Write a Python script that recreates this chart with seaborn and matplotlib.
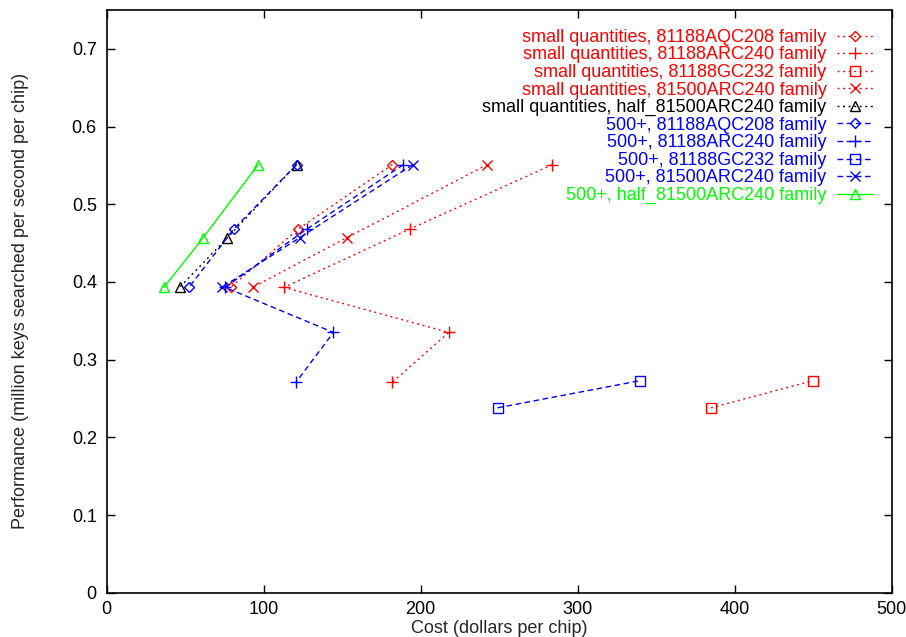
import matplotlib
matplotlib.use("Agg")
import matplotlib.pyplot as plt
import seaborn as sns

# Performance levels (million keys searched per second per chip)
perf_3 = [0.551, 0.468, 0.393]
perf_5 = [0.551, 0.468, 0.393, 0.335, 0.271]
perf_gc = [0.238, 0.273]
perf_81500 = [0.551, 0.457, 0.393]

# Cost (dollars per chip), small quantities
small_aqc208 = [182, 122, 79]
small_arc240 = [284, 193, 113, 218, 182]
small_gc232 = [385, 450]
small_81500 = [242.5, 153, 93]
small_half_81500 = [121, 77, 46.5]

# Cost (dollars per chip), 500+
bulk_aqc208 = [121, 81, 52.5]
bulk_arc240 = [189, 127.5, 75.5, 144.5, 120.7]
bulk_gc232 = [249, 340]
bulk_81500 = [195, 123, 73.5]
bulk_half_81500 = [96.5, 61.5, 36.5]

labels = [
    "small quantities, 81188AQC208 family",
    "small quantities, 81188ARC240 family",
    "small quantities, 81188GC232 family",
    "small quantities, 81500ARC240 family",
    "small quantities, half_81500ARC240 family",
    "500+, 81188AQC208 family",
    "500+, 81188ARC240 family",
    "500+, 81188GC232 family",
    "500+, 81500ARC240 family",
    "500+, half_81500ARC240 family",
]

x_ticks = [0, 100, 200, 300, 400, 500]
y_ticks = [0, 0.1, 0.2, 0.3, 0.4, 0.5, 0.6, 0.7]

RED, BLUE, GREEN, BLACK = "#ff0000", "#0000ff", "#00ff00", "#000000"
DOT = (0, (1.4, 2.6))
DASH = (0, (4.0, 2.6))

series = [
    (small_aqc208, perf_3, RED, "D", DOT, 5.5),
    (small_arc240, perf_5, RED, "+", DOT, 8),
    (small_gc232, perf_gc, RED, "s", DOT, 6.5),
    (small_81500, perf_81500, RED, "x", DOT, 7),
    (small_half_81500, perf_81500, BLACK, "^", DOT, 7),
    (bulk_aqc208, perf_3, BLUE, "D", DASH, 5.5),
    (bulk_arc240, perf_5, BLUE, "+", DASH, 8),
    (bulk_gc232, perf_gc, BLUE, "s", DASH, 6.5),
    (bulk_81500, perf_81500, BLUE, "x", DASH, 7),
    (bulk_half_81500, perf_81500, GREEN, "^", "-", 7),
]

FS = 13

sns.set_style("ticks")
plt.rcParams["font.family"] = ["Liberation Sans", "DejaVu Sans"]
plt.rcParams["font.size"] = FS

fig = plt.figure(figsize=(9.06, 6.37), dpi=100)
ax = fig.add_axes([0.1176, 0.0695, 0.8665, 0.9148])

for (cost, perf, color, marker, ls, ms), label in zip(series, labels):
    sns.lineplot(
        x=cost, y=perf, ax=ax, sort=False, estimator=None,
        color=color, linestyle=ls, linewidth=1.0,
        marker=marker, markersize=ms,
        markerfacecolor="none", markeredgecolor=color, markeredgewidth=1.0,
        label=label,
    )

ax.set_xlim(0, 500)
ax.set_ylim(0, 0.75)
ax.set_xticks(x_ticks)
ax.set_xticklabels([str(t) for t in x_ticks])
ax.set_yticks(y_ticks)
ax.set_yticklabels(["0"] + [f"{t:.1f}" for t in y_ticks[1:]])

ax.tick_params(direction="in", length=6, width=1.0, top=True, right=True,
               labelsize=FS, colors="black")
ax.tick_params(axis="y", pad=7)
ax.tick_params(axis="x", pad=6)
for sp in ax.spines.values():
    sp.set_linewidth(1.2)
    sp.set_color("black")

ax.set_xlabel("Cost (dollars per chip)", fontsize=FS)
ax.set_ylabel("Performance (million keys searched per second per chip)", fontsize=FS)
ax.xaxis.set_label_coords(0.5, -0.046)
ax.yaxis.set_label_coords(-0.099, 0.5)

leg = ax.legend(
    loc="upper right", bbox_to_anchor=(0.986, 0.98), borderaxespad=0,
    frameon=False, markerfirst=False, labelcolor="linecolor",
    handlelength=2.0, handletextpad=0.6, labelspacing=0.03,
    fontsize=FS, numpoints=1,
)

fig.savefig("out.png", dpi=100)
